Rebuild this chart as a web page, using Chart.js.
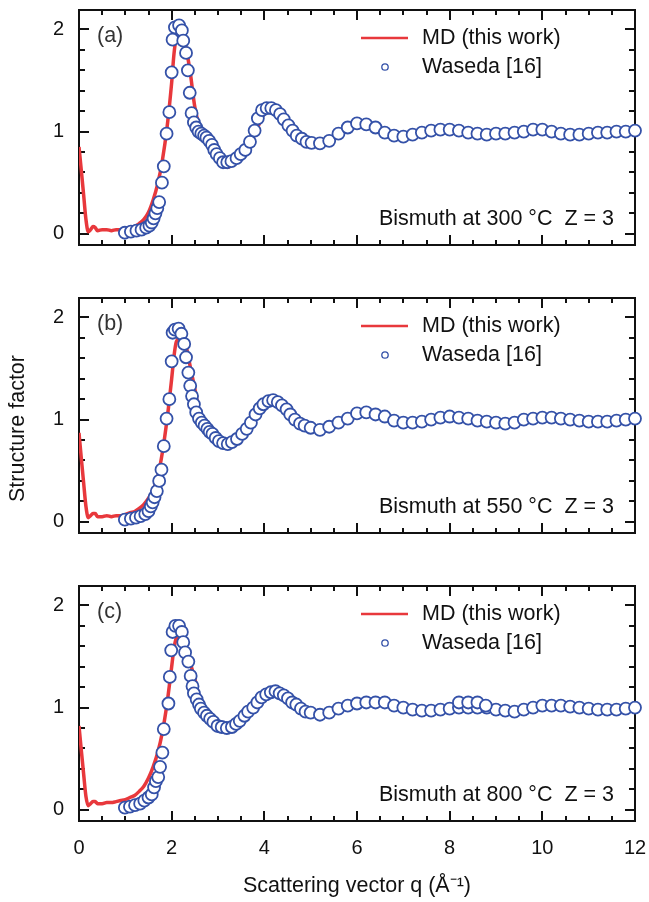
<!DOCTYPE html>
<html lang="en">
<head>
  <meta charset="UTF-8">
  <title>Structure factor of liquid bismuth</title>
  <style>
    body { margin: 0; background: #fff; }
    #wrap { position: relative; width: 649px; height: 902px; }
    #wrap canvas { position: absolute; left: 0; }
  </style>
</head>
<body>
<script src="https://cdn.jsdelivr.net/npm/chart.js"></script>
<div id="wrap">
  <canvas id="chartA" width="649" height="288" style="top:0px"></canvas>
  <canvas id="chartB" width="649" height="288" style="top:288px"></canvas>
  <canvas id="chartC" width="649" height="326" style="top:576px"></canvas>
</div>

<script>
  // axis ticks
  const xTicks = [0, 2, 4, 6, 8, 10, 12];
  const xTickLabels = ['0', '2', '4', '6', '8', '10', '12'];
  const yTicks = [0, 1, 2];
  const yTickLabels = ['0', '1', '2'];

  // MD (this work): same q grid for all three temperatures
  const mdQ = [0, 0.05, 0.1, 0.15, 0.2, 0.25, 0.3, 0.35, 0.4, 0.5, 0.6, 0.7, 0.8, 0.9, 1.0,
    1.1, 1.2, 1.3, 1.4, 1.5, 1.6, 1.7, 1.8, 1.9, 2.0, 2.05, 2.1, 2.2, 2.3, 2.4, 2.5, 2.6, 2.7,
    2.8, 2.9, 3.0, 3.1, 3.2, 3.3, 3.4, 3.6, 3.8, 4.0, 4.2, 4.4, 4.6, 4.8, 5.0, 5.2, 5.4, 5.6,
    5.8, 6.0, 6.2, 6.4, 6.6, 6.8, 7.0, 7.5, 8.0, 8.5, 9.0, 9.5, 10.0, 10.5, 11.0, 11.5, 12.0];
  const mdS300 = [0.85, 0.62, 0.38, 0.14, 0.02, 0.04, 0.07, 0.06, 0.03, 0.04, 0.04, 0.03, 0.04, 0.04, 0.05,
    0.06, 0.07, 0.10, 0.14, 0.21, 0.33, 0.49, 0.72, 1.04, 1.48, 1.76, 1.92, 1.98, 1.84, 1.58, 1.24, 1.05, 0.95,
    0.87, 0.79, 0.72, 0.67, 0.65, 0.67, 0.71, 0.80, 0.98, 1.18, 1.22, 1.14, 1.01, 0.93, 0.89, 0.88, 0.91, 0.97,
    1.03, 1.07, 1.07, 1.04, 0.99, 0.96, 0.95, 1.00, 1.02, 0.99, 0.98, 0.99, 1.02, 0.98, 0.98, 0.99, 1.00];
  const mdS550 = [0.87, 0.62, 0.38, 0.15, 0.04, 0.06, 0.08, 0.08, 0.05, 0.05, 0.06, 0.05, 0.06, 0.06, 0.07,
    0.09, 0.10, 0.13, 0.17, 0.23, 0.31, 0.44, 0.68, 1.00, 1.40, 1.62, 1.76, 1.80, 1.74, 1.52, 1.30, 1.07, 0.97,
    0.91, 0.86, 0.80, 0.75, 0.72, 0.74, 0.79, 0.89, 1.04, 1.15, 1.18, 1.13, 1.03, 0.95, 0.92, 0.91, 0.93, 0.97,
    1.01, 1.05, 1.06, 1.05, 1.02, 0.99, 0.97, 0.99, 1.02, 0.99, 0.97, 0.98, 1.02, 1.00, 0.98, 0.99, 1.00];
  const mdS800 = [0.82, 0.58, 0.35, 0.13, 0.04, 0.06, 0.08, 0.08, 0.06, 0.06, 0.07, 0.07, 0.08, 0.09, 0.10,
    0.12, 0.14, 0.18, 0.23, 0.31, 0.42, 0.56, 0.76, 1.04, 1.40, 1.58, 1.68, 1.72, 1.62, 1.44, 1.28, 1.10, 0.99,
    0.91, 0.86, 0.82, 0.78, 0.76, 0.78, 0.82, 0.92, 1.03, 1.12, 1.15, 1.12, 1.05, 0.99, 0.95, 0.94, 0.95, 0.99,
    1.02, 1.04, 1.05, 1.05, 1.04, 1.02, 1.00, 0.98, 1.00, 1.02, 0.99, 0.97, 1.01, 1.01, 0.99, 0.98, 1.00];

  // Waseda [16]: q above 5 A^-1 is sampled every 0.2
  const qTail = [5.2, 5.4, 5.6, 5.8, 6.0, 6.2, 6.4, 6.6, 6.8, 7.0, 7.2, 7.4, 7.6, 7.8, 8.0, 8.2, 8.4, 8.6,
    8.8, 9.0, 9.2, 9.4, 9.6, 9.8, 10.0, 10.2, 10.4, 10.6, 10.8, 11.0, 11.2, 11.4, 11.6, 11.8, 12.0];

  const expQ300 = [0.99, 1.12, 1.24, 1.35, 1.45, 1.52, 1.57, 1.61, 1.65, 1.69, 1.73, 1.79, 1.83, 1.89,
    1.95, 2.00, 2.02, 2.07, 2.16, 2.22, 2.25, 2.31, 2.35, 2.39, 2.43, 2.48, 2.53, 2.58, 2.64, 2.70, 2.75,
    2.81, 2.87, 2.92, 2.97, 3.04, 3.11, 3.20, 3.29, 3.40, 3.49, 3.59, 3.69, 3.79, 3.86, 3.95, 4.05, 4.15,
    4.25, 4.34, 4.42, 4.52, 4.61, 4.70, 4.81, 4.91, 5.02, ...qTail];
  const expS300 = [0.01, 0.02, 0.03, 0.04, 0.06, 0.08, 0.11, 0.15, 0.20, 0.25, 0.31, 0.50, 0.66, 0.98,
    1.19, 1.58, 1.90, 2.02, 2.04, 1.99, 1.89, 1.77, 1.60, 1.38, 1.18, 1.09, 1.04, 1.00, 0.98, 0.96, 0.94,
    0.91, 0.87, 0.82, 0.78, 0.74, 0.70, 0.70, 0.71, 0.74, 0.78, 0.82, 0.90, 1.01, 1.13, 1.21, 1.23, 1.23,
    1.21, 1.17, 1.12, 1.06, 1.01, 0.96, 0.93, 0.90, 0.89,
    0.885, 0.91, 0.98, 1.04, 1.08, 1.07, 1.04, 0.99, 0.96, 0.95, 0.97, 0.99, 1.01, 1.02, 1.02, 1.01, 0.99,
    0.98, 0.97, 0.98, 0.98, 0.99, 1.00, 1.02, 1.02, 1.00, 0.98, 0.97, 0.97, 0.98, 0.99, 0.99, 1.00, 1.00, 1.01];

  const expQ550 = [0.99, 1.12, 1.23, 1.33, 1.43, 1.50, 1.55, 1.59, 1.63, 1.68, 1.73, 1.78, 1.83, 1.89,
    1.95, 2.00, 2.02, 2.07, 2.15, 2.21, 2.27, 2.31, 2.36, 2.40, 2.44, 2.48, 2.53, 2.59, 2.65, 2.71, 2.77,
    2.82, 2.88, 2.95, 3.02, 3.11, 3.21, 3.30, 3.41, 3.52, 3.62, 3.71, 3.81, 3.90, 3.98, 4.09, 4.19, 4.29,
    4.38, 4.48, 4.56, 4.66, 4.77, 4.87, 5.00, ...qTail];
  const expS550 = [0.02, 0.03, 0.04, 0.055, 0.075, 0.105, 0.15, 0.19, 0.24, 0.30, 0.40, 0.51, 0.74, 1.01,
    1.20, 1.57, 1.85, 1.88, 1.89, 1.84, 1.74, 1.61, 1.46, 1.33, 1.23, 1.15, 1.07, 1.01, 0.97, 0.94, 0.91,
    0.88, 0.86, 0.82, 0.79, 0.77, 0.76, 0.78, 0.81, 0.86, 0.91, 0.97, 1.05, 1.11, 1.15, 1.18, 1.19, 1.17,
    1.14, 1.10, 1.05, 1.00, 0.96, 0.94, 0.92,
    0.90, 0.93, 0.97, 1.01, 1.06, 1.07, 1.05, 1.03, 0.99, 0.97, 0.97, 0.98, 1.00, 1.02, 1.03, 1.02, 1.01,
    0.99, 0.98, 0.97, 0.96, 0.97, 1.00, 1.01, 1.02, 1.02, 1.01, 1.00, 0.99, 0.98, 0.98, 0.98, 0.99, 1.00, 1.01];

  const expQ800 = [0.99, 1.10, 1.21, 1.32, 1.41, 1.50, 1.57, 1.62, 1.66, 1.71, 1.75, 1.80, 1.83, 1.93,
    1.96, 1.99, 2.02, 2.08, 2.16, 2.22, 2.25, 2.29, 2.36, 2.41, 2.45, 2.48, 2.54, 2.59, 2.63, 2.70, 2.76,
    2.83, 2.90, 2.99, 3.08, 3.19, 3.30, 3.39, 3.47, 3.57, 3.65, 3.76, 3.85, 3.94, 4.04, 4.14, 4.24, 4.33,
    4.42, 4.51, 4.60, 4.69, 4.79, 4.89, 5.00, ...qTail, 8.2, 8.4, 8.6, 8.78];
  const expS800 = [0.02, 0.03, 0.045, 0.06, 0.09, 0.12, 0.15, 0.22, 0.28, 0.32, 0.42, 0.56, 0.79, 1.04,
    1.30, 1.56, 1.74, 1.80, 1.80, 1.74, 1.64, 1.54, 1.45, 1.31, 1.21, 1.14, 1.08, 1.03, 0.99, 0.95, 0.92,
    0.89, 0.86, 0.82, 0.81, 0.80, 0.81, 0.84, 0.87, 0.92, 0.96, 1.00, 1.05, 1.10, 1.13, 1.15, 1.16, 1.14,
    1.12, 1.09, 1.05, 1.03, 0.99, 0.96, 0.95,
    0.93, 0.95, 0.99, 1.02, 1.04, 1.05, 1.05, 1.05, 1.02, 1.00, 0.98, 0.97, 0.97, 0.98, 0.99, 1.00, 1.00,
    1.00, 1.00, 0.98, 0.97, 0.96, 0.98, 1.00, 1.02, 1.02, 1.02, 1.01, 1.00, 0.99, 0.98, 0.98, 0.98, 0.99, 1.00,
    1.05, 1.05, 1.05, 1.02];

  const RED = '#e8383c';
  const BLUE = '#3451a8';
  const INK = '#111';
  const FONT = '"Liberation Sans", Arial, sans-serif';
  const TEXT_PX = 21.5;

  function pts(xs, ys) {
    return xs.map((x, i) => ({ x: x, y: ys[i] }));
  }

  // keep Chart.js from reserving room for the tick labels at the ends
  function noPad(s) {
    s.paddingTop = 0; s.paddingBottom = 0; s.paddingLeft = 0; s.paddingRight = 0;
  }

  // box with inward ticks on all four sides
  const framePlugin = {
    id: 'frame',
    beforeDatasetsDraw(chart) {
      const { ctx, chartArea: a, scales: { x, y } } = chart;
      ctx.save();
      ctx.strokeStyle = INK;
      ctx.lineWidth = 2;
      ctx.strokeRect(a.left, a.top, a.right - a.left, a.bottom - a.top);
      ctx.beginPath();
      for (let k = 1; k < 24; k++) {
        const px = Math.round(x.getPixelForValue(k * 0.5));
        const len = k % 4 === 0 ? 10 : 5;
        ctx.moveTo(px, a.bottom); ctx.lineTo(px, a.bottom - len);
        ctx.moveTo(px, a.top); ctx.lineTo(px, a.top + len);
      }
      for (let k = 0; k <= 10; k++) {
        const py = Math.round(y.getPixelForValue(k * 0.2));
        const len = k % 5 === 0 ? 10 : 6;
        ctx.moveTo(a.left, py); ctx.lineTo(a.left + len, py);
        ctx.moveTo(a.right, py); ctx.lineTo(a.right - len, py);
      }
      ctx.stroke();
      ctx.restore();
    }
  };

  // panel letter, legend and the temperature note
  const panelPlugin = {
    id: 'panel',
    afterDraw(chart, args, opts) {
      const { ctx, chartArea: a } = chart;
      const md = chart.data.datasets[0];
      const exp = chart.data.datasets[1];
      ctx.save();
      ctx.font = TEXT_PX + 'px ' + FONT;
      ctx.textBaseline = 'middle';

      ctx.fillStyle = '#333';
      ctx.textAlign = 'left';
      ctx.fillText(opts.letter, a.left + 18, a.top + 26);

      ctx.strokeStyle = md.borderColor;
      ctx.lineWidth = 2.5;
      ctx.beginPath();
      ctx.moveTo(a.right - 274, a.top + 28);
      ctx.lineTo(a.right - 227, a.top + 28);
      ctx.stroke();

      ctx.strokeStyle = exp.pointBorderColor;
      ctx.lineWidth = 1.3;
      ctx.beginPath();
      ctx.arc(a.right - 250, a.top + 57, 3.2, 0, Math.PI * 2);
      ctx.stroke();

      ctx.fillStyle = INK;
      ctx.fillText(md.label, a.right - 213, a.top + 28);
      ctx.fillText(exp.label, a.right - 213, a.top + 57);

      ctx.textAlign = 'right';
      ctx.fillText(opts.note, a.right - 21, a.bottom - 26);

      if (opts.yTitle) {
        ctx.translate(18, (a.top + a.bottom) / 2 + 13);
        ctx.rotate(-Math.PI / 2);
        ctx.textAlign = 'center';
        ctx.fillText(opts.yTitle, 0, 0);
      }
      ctx.restore();
    }
  };

  function makeChart(id, mdS, expQ, expS, panel, showX) {
    const config = {
      type: 'line',
      data: {
        datasets: [{
          label: 'MD (this work)',
          data: pts(mdQ, mdS),
          borderColor: RED,
          borderWidth: 3.5,
          pointRadius: 0,
          cubicInterpolationMode: 'monotone',
          order: 2
        }, {
          label: 'Waseda [16]',
          data: pts(expQ, expS),
          showLine: false,
          pointRadius: 6,
          pointBorderWidth: 1.8,
          pointBorderColor: BLUE,
          pointBackgroundColor: '#fff',
          clip: false,
          order: 1
        }]
      },
      options: {
        responsive: false,
        animation: false,
        events: [],
        layout: { padding: { top: 10, right: 14, left: 0, bottom: 0 } },
        plugins: {
          legend: { display: false },
          tooltip: { enabled: false },
          panel: panel
        },
        scales: {
          x: {
            type: 'linear',
            min: 0,
            max: 12,
            afterBuildTicks: s => { s.ticks = xTicks.map(v => ({ value: v })); },
            afterFit: s => { s.height = showX ? 81 : 43; noPad(s); },
            grid: { display: false, drawTicks: false },
            border: { display: false },
            ticks: {
              display: showX,
              autoSkip: false,
              maxRotation: 0,
              padding: 15,
              color: INK,
              font: { family: FONT, size: 20 },
              callback: v => xTickLabels[xTicks.indexOf(v)]
            },
            title: {
              display: showX,
              text: 'Scattering vector q (Å⁻¹)',
              color: INK,
              font: { family: FONT, size: TEXT_PX },
              padding: { top: 0, bottom: 3 }
            }
          },
          y: {
            min: -0.11,
            max: 2.19,
            afterBuildTicks: s => { s.ticks = yTicks.map(v => ({ value: v })); },
            afterFit: s => { s.width = 79; noPad(s); },
            grid: { display: false, drawTicks: false },
            border: { display: false },
            ticks: {
              padding: 15,
              color: INK,
              font: { family: FONT, size: 20 },
              callback: v => yTickLabels[yTicks.indexOf(v)]
            }
          }
        }
      },
      plugins: [framePlugin, panelPlugin]
    };
    return new Chart(document.getElementById(id), config);
  }

  makeChart('chartA', mdS300, expQ300, expS300,
    { letter: '(a)', note: 'Bismuth at 300 °C  Z = 3' }, false);
  makeChart('chartB', mdS550, expQ550, expS550,
    { letter: '(b)', note: 'Bismuth at 550 °C  Z = 3', yTitle: 'Structure factor' }, false);
  makeChart('chartC', mdS800, expQ800, expS800,
    { letter: '(c)', note: 'Bismuth at 800 °C  Z = 3' }, true);
</script>
</body>
</html>
